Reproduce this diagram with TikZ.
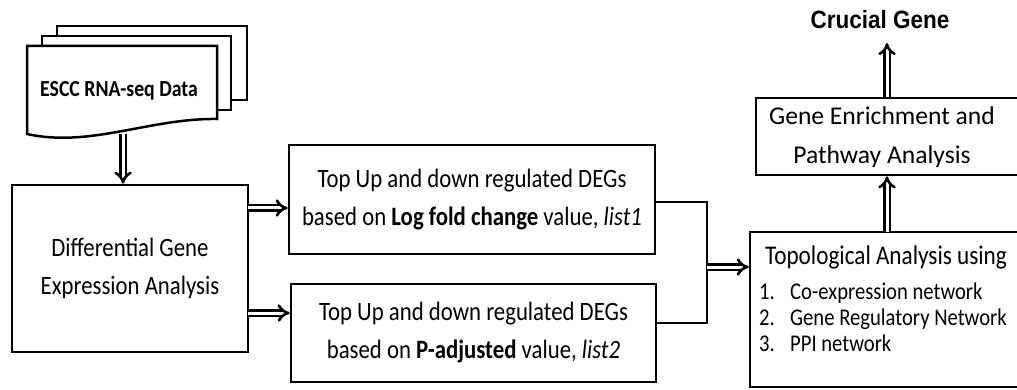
\documentclass[tikz,border=0pt]{standalone}
\usepackage{fontspec}
\setmainfont{Carlito}
\newfontfamily\narrowfont[FakeStretch=0.86]{Carlito}
\newfontfamily\headfont[FakeStretch=0.9]{Liberation Sans}
\usetikzlibrary{arrows.meta}
\tikzset{
  blk/.style={draw,line width=2.5pt,inner sep=0pt,align=center,
    font=\fontsize{26.5}{38}\narrowfont},
  txt/.style={inner sep=0pt,align=center,font=\fontsize{26.5}{38}\narrowfont},
  dbl/.style={double,line width=2.6pt,double distance=3pt,-Implies},
  wire/.style={line width=2.5pt},
}
\begin{document}
\begin{tikzpicture}[x=1pt,y=-1pt]
\clip (0,0) rectangle (1017,390);
% data sheets
\draw[wire,fill=white](57,26)rectangle(247,100);
\draw[wire,fill=white](42,36)rectangle(231,110);
\draw[wire,fill=white](27,46)--(217,46)--(217,119)
  .. controls (150,118) and (90,148) .. (27,134)--cycle;
\node[txt,font=\fontsize{23}{28}\narrowfont\bfseries](data)at(119,91){ESCC RNA-seq Data};
\coordinate(dout)at(123,134);
% boxes
\node[blk,minimum width=236pt,minimum height=167pt](dge)at(130,268.5){Differential Gene\\Expression Analysis};
\node[blk,minimum width=366pt,minimum height=109pt](lfc)at(472,199.5)
  {Top Up and down regulated DEGs\\based on \textbf{Log fold change} value, \textit{list1}};
\node[blk,minimum width=365pt,minimum height=98pt](padj)at(473.5,333)
  {Top Up and down regulated DEGs\\based on \textbf{P-adjusted} value, \textit{list2}};
\node[blk,minimum width=280pt,minimum height=155pt](topo)at(890,309.5){};
\node[blk,minimum width=274pt,minimum height=77pt](enr)at(893,136.5){};
\node[txt,font=\fontsize{25.6}{39}\selectfont](enrtxt)at(882,137.5){Gene Enrichment and\\Pathway Analysis};
\node[txt,font=\fontsize{27}{32}\narrowfont](topotxt)at(886,257){Topological Analysis using};
\node[txt,anchor=north west,align=left,font=\fontsize{24}{26}\narrowfont](nets)at(759,283)
  {\makebox[31pt][l]{1.}Co-expression network\\
   \makebox[31pt][l]{2.}Gene Regulatory Network\\
   \makebox[31pt][l]{3.}PPI network};
\node[inner sep=0pt,font=\fontsize{25}{30}\headfont\bfseries](gene)at(880,20){Crucial Gene};
% connectors
\draw[dbl](dout)--(dout|-dge.north);
\coordinate(u1)at(248,208);
\coordinate(u2)at(248,313);
\draw[dbl](u1)--(u1-|lfc.west);
\draw[dbl](u2)--(u2-|padj.west);
\coordinate(j)at(707,267);
\draw[wire]([yshift=-2.5pt]lfc.east)-|(j)|-([yshift=10pt]padj.east);
\draw[dbl](j)--(j-|topo.west);
\coordinate(c1)at(887,232);
\draw[dbl](c1)--(c1|-enr.south);
\draw[dbl](c1|-enr.north)--(887,43);
\end{tikzpicture}
\end{document}
